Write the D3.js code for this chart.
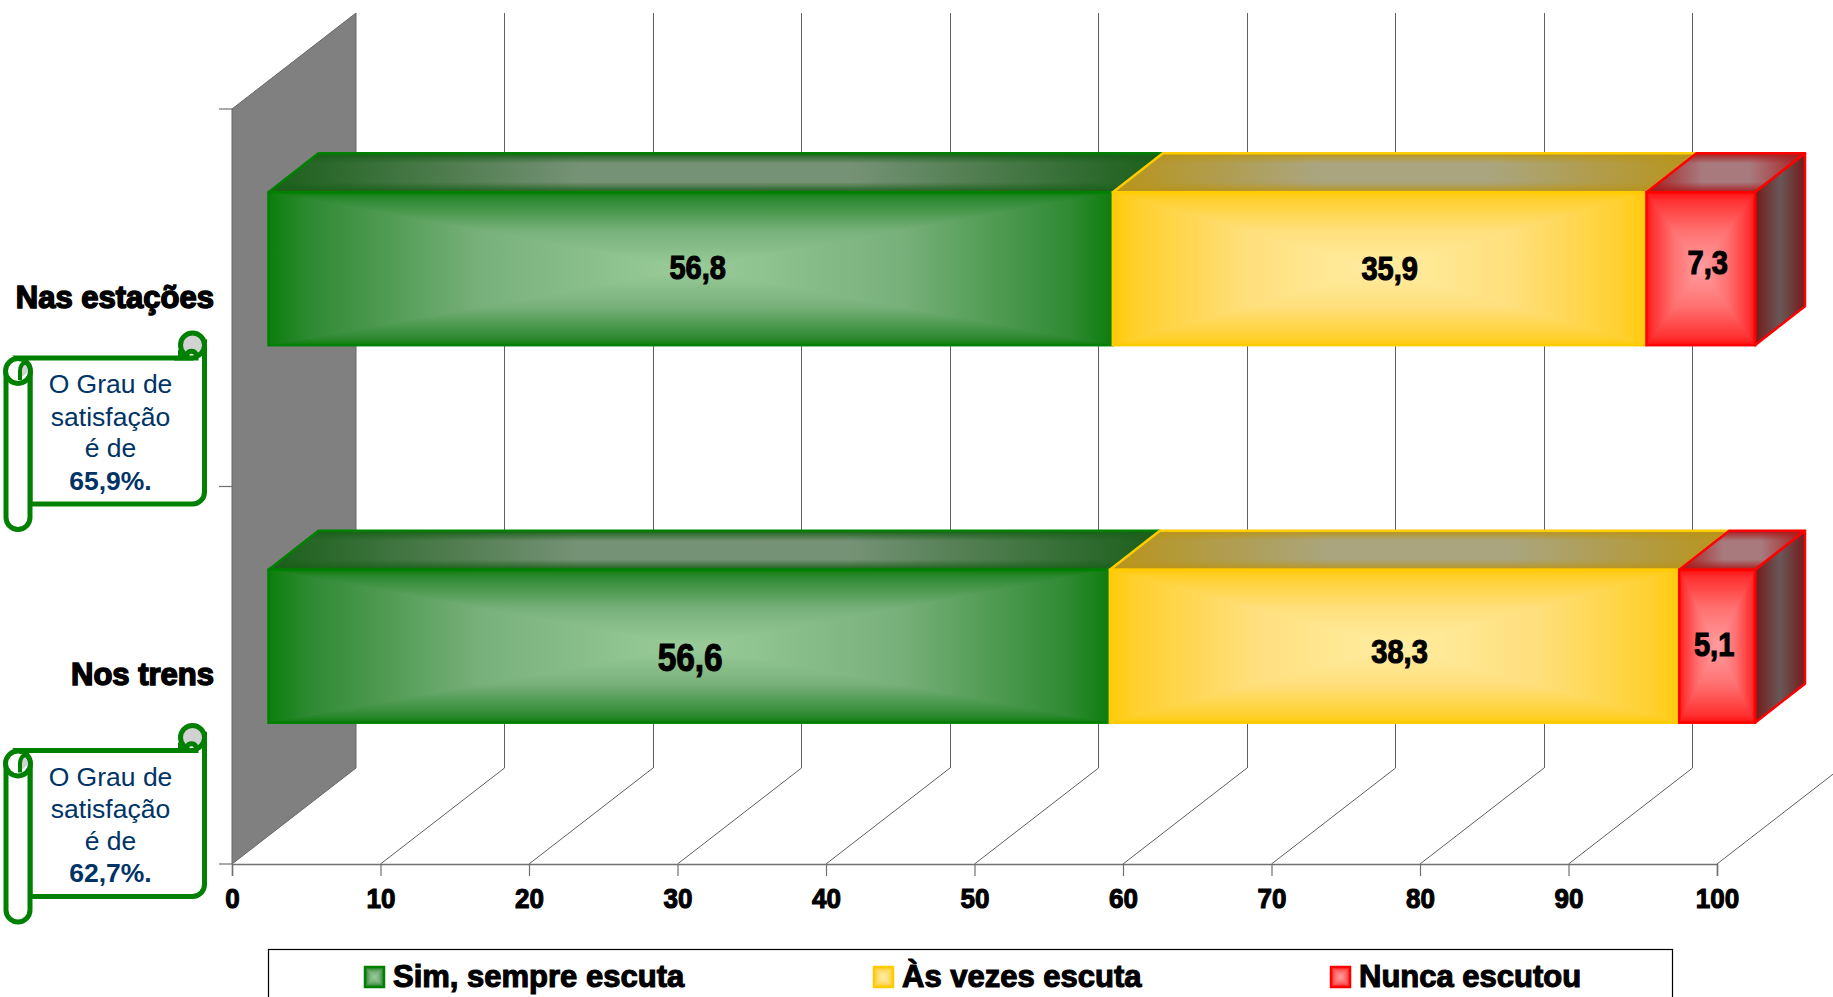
<!DOCTYPE html>
<html><head><meta charset="utf-8">
<script src="https://cdnjs.cloudflare.com/ajax/libs/d3/7.8.5/d3.min.js"></script>
<style>
html,body{margin:0;padding:0;background:#fff;overflow:hidden}
svg{display:block}
text{font-family:"Liberation Sans",Arial,sans-serif}
.heavy{font-weight:bold;fill:#000;stroke:#000;stroke-width:1.1px;paint-order:stroke}
.heavier{font-weight:bold;fill:#000;stroke:#000;stroke-width:1.5px;paint-order:stroke}
</style></head><body>
<svg id="c" width="1833" height="997"></svg>
<script>
const categories = ["Nas estações","Nos trens"];
const seriesNames = ["Sim, sempre escuta","Às vezes escuta","Nunca escutou"];
const simValues = [56.8,56.6];
const asVezesValues = [35.9,38.3];
const nuncaValues = [7.3,5.1];
const satisfaction = ["65,9%.","62,7%."];
const xTicks = [0,10,20,30,40,50,60,70,80,90,100];

const palette = [
 {edge:"#008000",front:["#0c7e0c","#2f8a33","#78b07a","#9acc9a"],topE:"#1a5f1a",topC:"#769276",sideE:"#0d4d0d",sideC:"#3a5a3a"},
 {edge:"#ffcc00",front:["#ffcb0a","#ffd030","#ffdf7c","#ffeda3"],topE:"#b8941a",topC:"#aaa57e",sideE:"#8a7010",sideC:"#777060"},
 {edge:"#ff0000",front:["#ff0f0f","#ff3030","#ff7070","#ff9ea0"],topE:"#a81c1c",topC:"#a87a7e",sideE:"#761a1a",sideC:"#685858"}
];

const svg = d3.select("#c"), defs = svg.append("defs");
const x = d3.scaleLinear().domain([0,100]).range([232,1717]);
const xBar = d3.scaleLinear().domain([0,100]).range([268.5,1755]);
const y = d3.scaleBand().domain(categories).range([109,864]).paddingInner(0.595).paddingOuter(0.2975);
const rows = categories.map((c,i)=>({cat:c,s0:simValues[i],s1:asVezesValues[i],s2:nuncaValues[i]}));
const stacked = d3.stack().keys(["s0","s1","s2"])(rows);
const wallDx=124, wallDy=-96, barDx=50, barDy=-39, barShiftY=-29;

function grad(id,dir,stops){
  const g=defs.append("linearGradient").attr("id",id).attr("x1",0).attr("y1",0)
   .attr("x2",dir==="h"?1:0).attr("y2",dir==="v"?1:0);
  stops.forEach(s=>g.append("stop").attr("offset",s[0]).attr("stop-color",s[1]).attr("stop-opacity",s[2]===undefined?1:s[2]));
}
palette.forEach((p,i)=>{
  const f=p.front;
  grad("fh"+i,"h",[[0,f[0]],[.05,f[1]],[.25,f[2]],[.5,f[3]],[.75,f[2]],[.95,f[1]],[1,f[0]]]);
  grad("fd"+i,"v",[[0,f[0]],[.1,f[1]],[.5,f[2]],[1,f[3]]]);
  grad("fu"+i,"v",[[0,f[3]],[.5,f[2]],[.9,f[1]],[1,f[0]]]);
  grad("th"+i,"h",[[0,p.topE],[.35,p.topC],[.65,p.topC],[1,p.topE]]);
  grad("tv"+i,"v",[[0,p.topE,1],[.26,p.topE,0],[.74,p.topE,0],[1,p.topE,1]]);
  grad("sh"+i,"h",[[0,p.sideE],[.5,p.sideC],[1,p.sideE]]);
});

const pts=a=>a.map(d=>d.join(",")).join(" ");
function frontFace(g,x0,x1,y0,y1,i,sw){
  const cx=(x0+x1)/2, cy=(y0+y1)/2;
  g.append("polygon").attr("points",pts([[x0,y0],[x1,y0],[x1,y1],[x0,y1]])).attr("fill",`url(#fh${i})`);
  g.append("polygon").attr("points",pts([[x0,y0],[x1,y0],[cx,cy]])).attr("fill",`url(#fd${i})`);
  g.append("polygon").attr("points",pts([[x0,y1],[x1,y1],[cx,cy]])).attr("fill",`url(#fu${i})`);
  g.append("rect").attr("x",x0).attr("y",y0).attr("width",x1-x0).attr("height",y1-y0)
   .attr("fill","none").attr("stroke",palette[i].edge).attr("stroke-width",sw);
}

// back wall
svg.append("polygon").attr("fill","#808080").attr("stroke","#666").attr("stroke-width",1)
 .attr("points",pts([[x(0),109],[x(0)+wallDx,109+wallDy],[x(0)+wallDx,864+wallDy],[x(0),864]]));

// grid
const grid=svg.append("g").attr("stroke","#606060").attr("stroke-width",1).attr("fill","none");
xTicks.slice(1).forEach(t=>{
  grid.append("line").attr("x1",x(t)).attr("y1",864).attr("x2",x(t)+wallDx).attr("y2",864+wallDy);
  grid.append("line").attr("x1",x(t)+wallDx).attr("y1",864+wallDy).attr("x2",x(t)+wallDx).attr("y2",109+wallDy).attr("shape-rendering","crispEdges");
});

// axes
const ax=svg.append("g").attr("transform","translate(0,864)").call(d3.axisBottom(x).tickValues(xTicks).tickSize(12).tickPadding(12).tickFormat(d3.format("d")));
ax.select(".domain").attr("stroke","#707070").attr("stroke-width",1.5);
ax.selectAll(".tick line").attr("stroke","#707070").attr("stroke-width",1.2);
ax.selectAll(".tick text").attr("class","heavy").attr("font-size",28).attr("font-family",null)
  .attr("transform","scale(0.93,1)").style("font-family",'"Liberation Sans",Arial,sans-serif');
const leftTicks=[109,486.5,864];
svg.append("g").selectAll("line").data(leftTicks).join("line").attr("x1",219).attr("x2",232)
 .attr("y1",d=>d).attr("y2",d=>d).attr("stroke","#707070").attr("stroke-width",1.2);

// bars
const barsG=svg.append("g");
stacked.forEach((ser,i)=>{
  ser.forEach((d,j)=>{
    const x0=xBar(d[0]),x1=xBar(d[1]),y0=y(categories[j])+barShiftY,y1=y0+y.bandwidth();
    const g=barsG.append("g");
    const topPts=pts([[x0,y0],[x0+barDx,y0+barDy],[x1+barDx,y0+barDy],[x1,y0]]);
    g.append("polygon").attr("points",topPts).attr("fill",`url(#th${i})`);
    g.append("polygon").attr("points",topPts).attr("fill",`url(#tv${i})`);
    g.append("polygon").attr("points",topPts).attr("fill","none").attr("stroke",palette[i].edge).attr("stroke-width",2.5).attr("stroke-linejoin","round");
    if(i===stacked.length-1){
      g.append("polygon").attr("points",pts([[x1,y0],[x1+barDx,y0+barDy],[x1+barDx,y1+barDy],[x1,y1]]))
       .attr("fill",`url(#sh${i})`).attr("stroke",palette[i].edge).attr("stroke-width",2.5).attr("stroke-linejoin","round");
    }
    frontFace(g,x0,x1,y0,y1,i,2.5);
  });
});

// value labels (hand-placed offsets from the segment centre in the source)
const labelNudge=[[[7,-2],[1,11]],[[10,-1],[5,5]],[[7,-7],[-3,-2]]];
const labelSize=[[33,38],[33,33],[33,33]];
stacked.forEach((ser,i)=>ser.forEach((d,j)=>{
  const v=d[1]-d[0];
  const cx=xBar((d[0]+d[1])/2)+labelNudge[i][j][0];
  const cy=y(categories[j])+barShiftY+y.bandwidth()/2+labelNudge[i][j][1];
  svg.append("text").attr("class","heavy").attr("transform",`translate(${cx},${cy}) scale(0.88,1)`)
   .attr("dy",".36em").attr("text-anchor","middle")
   .attr("font-size",labelSize[i][j]).text(d3.format(".1f")(v).replace(".",","));
}));

// category labels
svg.append("g").selectAll("text").data(categories).join("text").attr("class","heavier")
 .attr("x",214).attr("y",d=>297.5+categories.indexOf(d)*377.5-1).attr("dy",".36em").attr("text-anchor","end")
 .attr("font-size",31).text(d=>d);

// scrolls
const scrollTops=[358,750.5];
const green="#008000";
scrollTops.forEach((top,k)=>{
  const g=svg.append("g").attr("transform",`translate(0,${top})`).attr("fill","none").attr("stroke",green).attr("stroke-width",5);
  g.append("path").attr("fill","#fff").attr("d","M18,0 L192,0 L204.5,-13 L204.5,134 A12,12 0 0 1 192.5,146 L30,146 L30,13 Z");
  g.append("circle").attr("cx",192.5).attr("cy",-13).attr("r",12).attr("fill","#d2d2d2");
  g.append("path").attr("stroke-width",5).attr("fill","#fff").attr("d","M180.5,-2 L180.5,-3 A2,2 0 0 1 180.5,0 L196,0 L196,-4 A5,5 0 0 0 187,-4 L187,-1");
  g.append("path").attr("fill","#fff").attr("d","M30,13 L30,159.5 A12,12 0 0 1 6,159.5 L6,13");
  g.append("ellipse").attr("cx",18).attr("cy",13).attr("rx",12.5).attr("ry",12.5).attr("fill","#fff");
  g.append("path").attr("stroke","none").attr("fill","#d2d2d2").attr("d","M21,5 A8,8 0 0 1 28,14 L21,20 Z");
  g.append("path").attr("stroke-width",4).attr("d","M30,13 A5,8 0 0 0 20,13 L20,22");
  const lines=[["O Grau de",35,400],["satisfação",67.5,400],["é de",99,400],[satisfaction[k],131.5,700]];
  g.selectAll("text").data(lines).join("text").attr("x",110.5).attr("y",d=>d[1]).attr("text-anchor","middle")
   .attr("font-size",26.5).attr("font-weight",d=>d[2]).attr("fill","#003366").attr("stroke","none").text(d=>d[0]);
});

// legend
svg.append("rect").attr("x",268.5).attr("y",949.5).attr("width",1404).attr("height",60).attr("fill","#fff").attr("stroke","#000").attr("stroke-width",1.2);
const legendX=d3.scaleOrdinal().domain(seriesNames).range([365,874,1331]);
seriesNames.forEach((n,i)=>{
  const lx=legendX(n);
  frontFace(svg.append("g"),lx,lx+19,967,987,i,2.5);
  svg.append("text").attr("class","heavy").attr("x",lx+28).attr("y",976).attr("dy",".36em").attr("font-size",31).text(n);
});
</script></body></html>
